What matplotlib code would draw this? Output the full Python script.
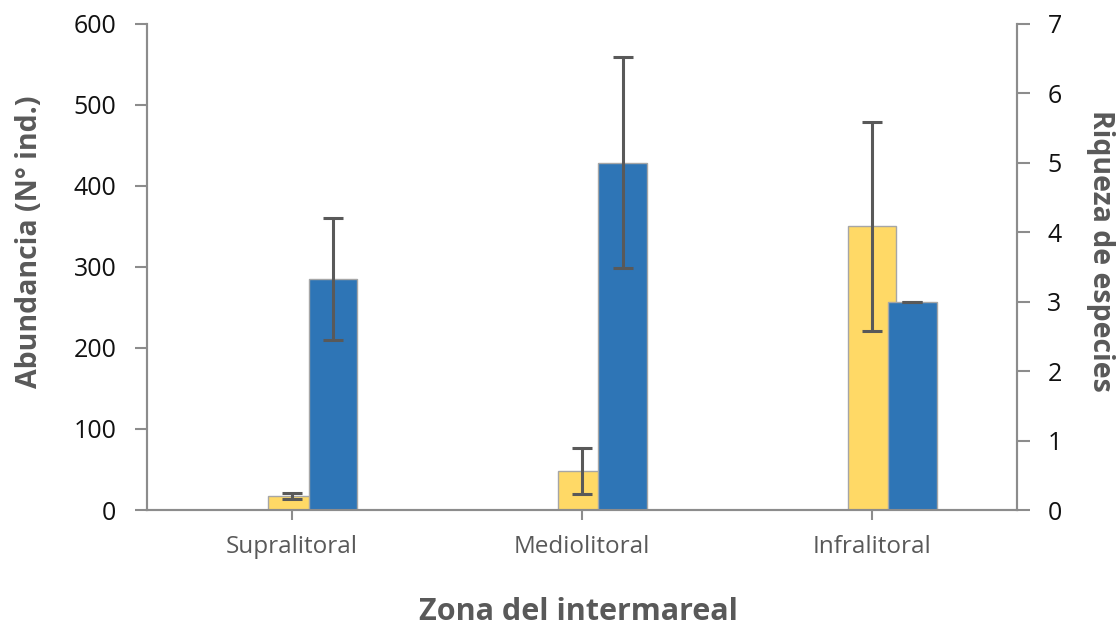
import numpy as np
import matplotlib.pyplot as plt

# values
zonas = ['Supralitoral', 'Mediolitoral', 'Infralitoral']
abundancia = [17, 48, 350]
abundancia_err = [4, 28, 129]
riqueza = [3.33, 5.0, 3.0]
riqueza_err = [0.88, 1.52, 0.0]

amarillo = '#FFD966'
azul = '#2E75B6'
gris_eje = '#8C8C8C'
gris_err = '#595959'
gris_txt = '#595959'

plt.rcParams['font.family'] = ['Open Sans', 'DejaVu Sans']

fig = plt.figure(figsize=(11.18, 6.25), dpi=100)
ax = fig.add_axes([0.1315, 0.184, 0.778, 0.778])
ax2 = ax.twinx()

x = np.arange(len(zonas))
w = 0.166
off = 0.14

ax.bar(x, abundancia, width=w, color=amarillo, edgecolor='#A6A6A6',
       linewidth=1.0, zorder=2)
ax.errorbar(x, abundancia, yerr=abundancia_err, fmt='none',
            ecolor=gris_err, elinewidth=2.2, capsize=7, capthick=2.2,
            zorder=3)
ax2.bar(x + off, riqueza, width=w, color=azul, edgecolor='#A6A6A6',
        linewidth=1.0, zorder=2)
ax2.errorbar(x + off, riqueza, yerr=riqueza_err, fmt='none',
             ecolor=gris_err, elinewidth=2.2, capsize=7, capthick=2.2,
             zorder=3)

ax.set_zorder(ax2.get_zorder() - 1)
ax.patch.set_visible(False)
ax2.patch.set_visible(False)

ax.set_xlim(-0.5, 2.5)
ax.set_ylim(0, 600)
ax2.set_ylim(0, 7)
ax.set_yticks(np.arange(0, 601, 100))
ax2.set_yticks(np.arange(0, 8, 1))
ax.set_xticks(x)
ax.set_xticklabels(zonas, fontsize=17.5, color=gris_txt)

for a in (ax, ax2):
    for s in a.spines.values():
        s.set_color(gris_eje)
        s.set_linewidth(1.5)
    a.spines['top'].set_visible(False)
ax.tick_params(axis='y', direction='out', length=9, width=1.5,
               color=gris_eje, labelsize=18, labelcolor='#111111', pad=13)
ax.tick_params(axis='x', direction='out', length=7, width=1.5,
               color=gris_eje, pad=11)
ax2.tick_params(axis='y', direction='out', length=9, width=1.5,
                color=gris_eje, labelsize=18, labelcolor='#111111', pad=13)

# axis titles placed in figure pixels
W, H = 1118, 625
fig.text(30 / W, 1 - 242 / H, 'Abundancia (N° ind.)', fontsize=20.5,
         fontweight='bold', color=gris_txt, rotation=90,
         ha='center', va='center')
fig.text(1100 / W, 1 - 251 / H, 'Riqueza de especies', fontsize=20.5,
         fontweight='bold', color=gris_txt, rotation=270,
         ha='center', va='center')
fig.text(578 / W, 1 - 612 / H, 'Zona del intermareal', fontsize=22,
         fontweight='bold', color=gris_txt, ha='center', va='center')

fig.savefig('out.png', dpi=100)
